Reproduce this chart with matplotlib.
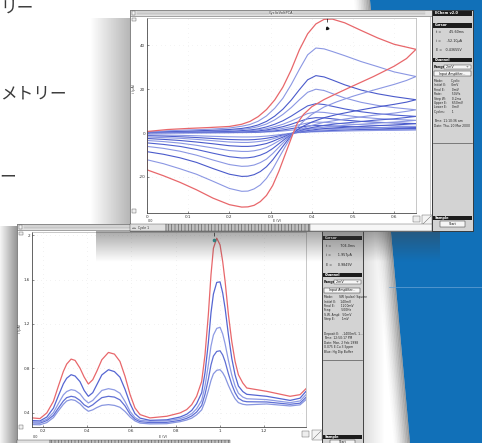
import numpy as np
import matplotlib.pyplot as plt
from matplotlib.patches import Rectangle, Polygon

plt.rcParams['font.family'] = ['DejaVu Sans']
plt.rcParams['hatch.linewidth'] = 0.35

W, H = 482, 443

# ---- cyclic voltammograms (E in V, i in uA) ----
cv_e_fwd = [0.0, 0.05, 0.1, 0.15, 0.2, 0.23, 0.25, 0.27, 0.29, 0.31, 0.33, 0.35, 0.37, 0.39, 0.41,
            0.43, 0.45, 0.48, 0.52, 0.56, 0.6, 0.653]
cv_e_rev = [0.653, 0.63, 0.6, 0.55, 0.5, 0.46, 0.43, 0.40, 0.38, 0.365, 0.355, 0.345, 0.335, 0.32,
            0.305, 0.29, 0.275, 0.26, 0.245, 0.23, 0.2, 0.16, 0.12, 0.08, 0.04, 0.0]
cv_red_fwd = [0.7, 1.6, 2.1, 2.5, 3.0, 4.0, 5.3, 7.5, 10.7, 15.1, 21.0, 28.8, 38.0, 45.3, 49.8, 51.9,
              52.0, 50.3, 46.8, 43.4, 40.5, 38.2]
cv_red_rev = [38.2, 34, 30.5, 25.8, 21.5, 18, 15.3, 12, 8.5, 4.5, 0, -5, -10, -17.5, -24, -28.5,
              -31.3, -33, -33.7, -33.8, -32.7, -29.7, -25.9, -22.5, -19.5, -16.8]
cv_blue_fwd = [
    [0.5, 1.0, 1.4, 1.7, 2.3, 3.1, 3.9, 5.4, 7.8, 11.3, 15.9, 22.1, 29.1, 35.7, 38.8, 38.4, 37.2, 35.3, 32.6, 30.3, 27.9, 25.8],
    [0.4, 0.7, 0.9, 1.2, 1.6, 2.1, 2.7, 3.7, 5.3, 7.7, 10.9, 15.0, 19.8, 24.3, 26.2, 25.6, 24.2, 22.0, 19.6, 17.9, 16.6, 15.2],
    [0.35, 0.5, 0.7, 0.9, 1.2, 1.6, 2.1, 2.9, 4.1, 6.0, 8.5, 11.6, 15.2, 18.6, 20.0, 19.4, 18.0, 16.0, 14.0, 12.6, 11.6, 10.6],
    [0.3, 0.4, 0.5, 0.6, 0.8, 1.1, 1.4, 1.9, 2.8, 4.0, 5.6, 7.7, 10.1, 12.4, 13.4, 13.0, 12.2, 11.0, 9.7, 8.8, 8.2, 7.6],
    [0.25, 0.3, 0.35, 0.45, 0.6, 0.8, 1.0, 1.4, 2.0, 2.9, 4.0, 5.5, 7.2, 8.9, 9.6, 9.4, 8.9, 8.1, 7.2, 6.6, 6.2, 5.8],
    [0.2, 0.25, 0.3, 0.35, 0.45, 0.6, 0.7, 1.0, 1.4, 2.1, 2.9, 4.0, 5.3, 6.5, 7.0, 6.9, 6.5, 5.9, 5.3, 4.9, 4.6, 4.3],
    [0.15, 0.18, 0.2, 0.25, 0.3, 0.4, 0.5, 0.7, 1.0, 1.5, 2.1, 2.9, 3.8, 4.6, 5.0, 4.9, 4.6, 4.2, 3.8, 3.5, 3.2, 3.0],
    [0.1, 0.12, 0.15, 0.18, 0.22, 0.3, 0.35, 0.5, 0.7, 1.0, 1.4, 2.0, 2.6, 3.2, 3.5, 3.4, 3.2, 3.0, 2.7, 2.5, 2.4, 2.3],
    [0.05, 0.07, 0.09, 0.11, 0.14, 0.18, 0.23, 0.32, 0.46, 0.67, 0.94, 1.3, 1.7, 2.1, 2.3, 2.25, 2.15, 1.95, 1.75, 1.65, 1.55, 1.5],
]
cv_blue_rev = [
    [25.8, 24.0, 22.2, 19.6, 16.8, 14.2, 11.9, 8.5, 5.4, 2.6, 0, -3.2, -6.4, -11.4, -16.5, -20.7, -23.7, -25.5, -26.5, -26.6, -25.3, -22.0, -18.8, -16.3, -14.0, -12.2],
    [15.2, 14.1, 13.1, 11.6, 9.9, 8.4, 7.0, 5.0, 3.2, 1.5, 0, -2.4, -4.8, -8.5, -12.3, -15.4, -17.6, -19.0, -19.7, -19.8, -18.8, -16.2, -13.4, -11.3, -9.7, -8.5],
    [10.6, 9.9, 9.1, 8.1, 6.9, 5.8, 4.9, 3.5, 2.2, 1.1, 0, -1.8, -3.6, -6.5, -9.4, -11.9, -13.5, -14.6, -15.1, -15.2, -14.4, -12.3, -10.1, -8.3, -7.0, -6.1],
    [7.6, 7.1, 6.5, 5.8, 4.9, 4.2, 3.5, 2.5, 1.6, 0.8, 0, -1.4, -2.7, -4.9, -7.1, -8.9, -10.1, -10.9, -11.3, -11.4, -10.8, -9.2, -7.5, -6.1, -5.2, -4.5],
    [5.8, 5.4, 5.0, 4.4, 3.8, 3.2, 2.7, 1.9, 1.2, 0.6, 0, -1.0, -2.0, -3.6, -5.2, -6.6, -7.5, -8.1, -8.4, -8.4, -8.0, -6.8, -5.6, -4.6, -3.9, -3.4],
    [4.3, 4.0, 3.7, 3.3, 2.8, 2.4, 2.0, 1.4, 0.9, 0.4, 0, -0.7, -1.5, -2.6, -3.8, -4.8, -5.4, -5.9, -6.1, -6.1, -5.8, -4.9, -4.1, -3.4, -2.9, -2.5],
    [3.0, 2.8, 2.6, 2.3, 2.0, 1.65, 1.4, 1.0, 0.63, 0.3, 0, -0.5, -1.0, -1.8, -2.7, -3.4, -3.8, -4.1, -4.3, -4.3, -4.1, -3.5, -2.9, -2.4, -2.1, -1.8],
    [2.3, 2.15, 2.0, 1.75, 1.5, 1.25, 1.05, 0.76, 0.48, 0.23, 0, -0.4, -0.75, -1.3, -1.9, -2.4, -2.75, -3.0, -3.1, -3.1, -2.95, -2.5, -2.05, -1.7, -1.4, -1.2],
    [1.5, 1.4, 1.3, 1.15, 1.0, 0.83, 0.7, 0.5, 0.32, 0.15, 0, -0.2, -0.45, -0.8, -1.1, -1.4, -1.6, -1.75, -1.8, -1.8, -1.7, -1.5, -1.25, -1.05, -0.9, -0.8],
]
cv_xticks = [0, 0.1, 0.2, 0.3, 0.4, 0.5, 0.6]
cv_xlabels = ['0', '0.1', '0.2', '0.3', '0.4', '0.5', '0.6']
cv_yticks = [40, 20, 0, -20]
cv_ylabels = ['40', '20', '0', '-20']

# ---- pulse voltammograms (E in V, i in uA) ----
dp_e = [0.152, 0.186, 0.217, 0.247, 0.269, 0.292, 0.307, 0.327, 0.345, 0.367, 0.386, 0.405, 0.425,
        0.443, 0.466, 0.496, 0.523, 0.548, 0.571, 0.594, 0.616, 0.639, 0.684, 0.760, 0.820, 0.850,
        0.873, 0.895, 0.918, 0.933, 0.948, 0.960, 0.971, 0.986, 1.001, 1.013, 1.024, 1.039, 1.054,
        1.069, 1.084, 1.104, 1.122, 1.212, 1.318, 1.363, 1.390]
dp_red = [0.352, 0.346, 0.397, 0.502, 0.637, 0.772, 0.838, 0.883, 0.871, 0.802, 0.721, 0.658, 0.697,
          0.772, 0.877, 0.943, 0.928, 0.862, 0.727, 0.562, 0.442, 0.382, 0.352, 0.367, 0.397, 0.427,
          0.472, 0.547, 0.682, 0.923, 1.283, 1.643, 1.883, 1.974, 1.914, 1.763, 1.583, 1.283, 1.043,
          0.863, 0.742, 0.667, 0.622, 0.592, 0.547, 0.562, 0.616]
dp_blue = [
    [0.328, 0.325, 0.36, 0.44, 0.55, 0.66, 0.71, 0.742, 0.73, 0.68, 0.60, 0.547, 0.58, 0.65, 0.74, 0.787,
     0.77, 0.72, 0.61, 0.48, 0.39, 0.35, 0.33, 0.335, 0.36, 0.385, 0.42, 0.48, 0.58, 0.76, 1.03, 1.30,
     1.47, 1.575, 1.58, 1.48, 1.34, 1.10, 0.89, 0.74, 0.64, 0.59, 0.565, 0.547, 0.51, 0.53, 0.592],
    [0.316, 0.314, 0.34, 0.40, 0.48, 0.56, 0.59, 0.607, 0.60, 0.57, 0.52, 0.487, 0.51, 0.55, 0.60, 0.616,
     0.605, 0.575, 0.50, 0.41, 0.355, 0.33, 0.322, 0.325, 0.345, 0.365, 0.39, 0.435, 0.51, 0.64, 0.83,
     1.00, 1.10, 1.16, 1.17, 1.11, 1.02, 0.87, 0.74, 0.64, 0.575, 0.54, 0.525, 0.517, 0.49, 0.505, 0.562],
    [0.307, 0.305, 0.328, 0.375, 0.44, 0.505, 0.535, 0.547, 0.54, 0.51, 0.47, 0.448, 0.47, 0.50, 0.535,
     0.547, 0.54, 0.515, 0.46, 0.385, 0.34, 0.318, 0.31, 0.312, 0.33, 0.348, 0.37, 0.405, 0.465, 0.565,
     0.70, 0.83, 0.91, 0.952, 0.958, 0.92, 0.86, 0.75, 0.655, 0.58, 0.53, 0.505, 0.498, 0.496, 0.475,
     0.485, 0.538],
    [0.292, 0.29, 0.31, 0.355, 0.415, 0.475, 0.505, 0.517, 0.51, 0.48, 0.44, 0.412, 0.425, 0.445, 0.465,
     0.472, 0.465, 0.448, 0.41, 0.36, 0.325, 0.305, 0.298, 0.300, 0.318, 0.333, 0.35, 0.38, 0.425, 0.50,
     0.60, 0.69, 0.75, 0.782, 0.787, 0.76, 0.72, 0.645, 0.58, 0.525, 0.49, 0.475, 0.47, 0.478, 0.46,
     0.47, 0.517],
]
dp_xticks = [0.2, 0.4, 0.6, 0.8, 1.0, 1.2]
dp_xlabels = ['0.2', '0.4', '0.6', '0.8', '1', '1.2']
dp_yticks = [0.4, 0.8, 1.2, 1.6, 2.0]
dp_ylabels = ['0.4', '0.8', '1.2', '1.6', '2']

side_text = ['リー', 'メトリー', 'ー']

RED = '#e8676b'
BLUES = ['#8b97e3', '#4a5acb', '#8b97e3', '#4f60cf', '#8b97e3', '#4a5acb', '#8b97e3', '#4f60cf', '#8b97e3']
DPBLUES = ['#5566d2', '#8e9be4', '#5f6fd4', '#8896e0']


def rect(ax, x0, y0, x1, y1, fc, ec='none', lw=0.4, z=1, **kw):
    ax.add_patch(Rectangle((x0, y0), x1 - x0, y1 - y0, facecolor=fc, edgecolor=ec,
                           linewidth=lw, zorder=z, **kw))


def shade(ax, x0, x1, y0, y1, a0, a1, horizontal=True, z=1):
    t = np.linspace(a0, a1, 64)
    arr = np.zeros((1, 64, 4)) if horizontal else np.zeros((64, 1, 4))
    arr[..., :3] = 0.25
    arr[..., 3] = t if horizontal else t[:, None]
    ax.imshow(arr, extent=(x0, x1, y1, y0), aspect='auto', interpolation='bilinear', zorder=z)


def header(ax, x0, x1, y0, y1, label, z=3):
    rect(ax, x0, y0, x1, y1, '#1c1c1c', z=z)
    ax.text(x0 + 2, (y0 + y1) / 2, label, color='white', fontsize=2.5, va='center',
            fontweight='bold', zorder=z + 1)


def small(ax, x, y, s, z=4, **kw):
    kw.setdefault('fontsize', 2.4)
    kw.setdefault('color', '#222222')
    ax.text(x, y, s, va='center', zorder=z, **kw)


def titlebar(ax, x0, x1, y0, y1, title=None, z=2):
    rect(ax, x0, y0, x1, y1, '#e2e2e2', '#666666', 0.4, z=z)
    for k in range(1, 4):
        yk = y0 + k * (y1 - y0) / 4
        ax.plot([x0 + 7, x1 - 7], [yk, yk], color='#9c9c9c', lw=0.3, zorder=z)
    rect(ax, x0 + 2, y0 + 1, x0 + 5, y1 - 1, '#f4f4f4', '#555555', 0.3, z=z + 1)
    if title:
        cx = (x0 + x1) / 2
        rect(ax, cx - 12, y0 + 0.5, cx + 12, y1 - 0.5, '#e2e2e2', z=z + 1)
        ax.text(cx, (y0 + y1) / 2, title, fontsize=2.5, ha='center', va='center', color='#333333',
                zorder=z + 2)


def panel(ax, x0, x1, y0, y1, z=2):
    rect(ax, x0, y0, x1, y1, '#d3d3d3', '#2a2a2a', 0.6, z=z)


def button(ax, x0, x1, y0, y1, label, z=4):
    rect(ax, x0, y0, x1, y1, '#f6f6f6', '#333333', 0.35, z=z)
    ax.text((x0 + x1) / 2, (y0 + y1) / 2, label, fontsize=2.3, ha='center', va='center',
            color='#111111', zorder=z + 1)


fig = plt.figure(figsize=(W / 100, H / 100), dpi=100)

# ---------- background layer ----------
bg = fig.add_axes([0, 0, 1, 1], zorder=0)
bg.set_xlim(0, W)
bg.set_ylim(H, 0)
bg.axis('off')

bg.add_patch(Polygon([(370, 0), (W, 0), (W, H), (410, H)], closed=True, facecolor='#1170b8',
                     edgecolor='none', zorder=1))
for k in range(10):
    off = k * 1.6
    bg.add_patch(Polygon([(370 - off - 1.6, 0), (370 - off, 0), (410 - off, H), (410 - off - 1.6, H)],
                         closed=True, facecolor='#3a3a3a', edgecolor='none',
                         alpha=0.5 * (1 - k / 10) ** 1.5, zorder=1))
bg.plot([389, W], [287, 287], color='#6aa3d6', lw=0.5, zorder=1)

# left margin text (ends of the method names, cut by the page edge)
jp = ['Noto Sans CJK JP', 'DejaVu Sans']
bg.text(0, 8, side_text[0], fontsize=12, ha='left', va='center', color='#3a3a3a', family=jp)
bg.text(0, 94, side_text[1], fontsize=12, ha='left', va='center', color='#3a3a3a', family=jp)
bg.text(-1, 177, side_text[2], fontsize=12, ha='left', va='center', color='#3a3a3a', family=jp)

# shadows of the two windows
shade(bg, 0, 17, 226, H, 0.05, 0.55, z=1)
shade(bg, 90, 130, 18, 232, 0.0, 0.38, z=1)
shade(bg, 363, 385, 229, H, 0.18, 0.0, z=1)

# lower window frame
rect(bg, 17, 224, 322, H + 2, 'white', '#555555', 0.5, z=2)
titlebar(bg, 17, 322, 224, 229.5)
rect(bg, 19, 231.5, 23, 235, '#f0f0f0', '#555555', 0.3, z=3)
rect(bg, 19, 425, 23, 428.5, '#f0f0f0', '#555555', 0.3, z=3)
bg.text(20, 328, 'i (µA)', fontsize=2.4, rotation=90, ha='center', va='center', color='#333333', zorder=3)
bg.text(163, 437.5, 'E (V)', fontsize=2.4, ha='center', va='center', color='#333333', zorder=3)
bg.text(35, 437.5, '0.0', fontsize=2.4, ha='center', va='center', color='#333333', zorder=3)
rect(bg, 17, 440, 50, H + 2, '#e0e0e0', '#444444', 0.3, z=3)
rect(bg, 50, 440, 230, H + 2, '#bdbdbd', '#444444', 0.3, z=3, hatch='|||||')
rect(bg, 302, 431, 309, 437, '#eeeeee', '#555555', 0.3, z=3)
rect(bg, 312, 430, 322, 440, '#f4f4f4', '#555555', 0.3, z=3)
bg.plot([313, 321], [439, 431], color='#555555', lw=0.3, zorder=3)

# lower side panel
panel(bg, 322, 363, 229, H + 2)
header(bg, 323, 362, 235.5, 240, 'Cursor')
small(bg, 326, 246, 't =        704.0ms')
small(bg, 326, 255, 'i =      1.957µA')
small(bg, 326, 264.5, 'E =     0.9849V')
header(bg, 323, 362, 272.5, 277, 'Channel')
small(bg, 323.5, 282, 'Range:', fontweight='bold')
rect(bg, 334, 280, 361, 284, '#f6f6f6', '#333333', 0.3, z=4)
small(bg, 336, 282, '2mV           ÷', z=5)
button(bg, 324, 360, 287.5, 292.5, 'Input Amplifier...')
for k, s in enumerate(['Mode:      SW (pulse) Square', 'Initial E:    140mV', 'Final E:      1200mV',
                       'Freq:          500Hz', 'S.W. Ampl:  50mV', 'Step E:       1mV']):
    small(bg, 324, 297.3 + k * 4.4, s, fontsize=2.2)
for k, s in enumerate(['Deposit E:   -1400mV, 1...', 'Time: 12:50:17 PM', 'Date: Mon, 2 Feb 1998',
                       '0.075 E.Cu 3.5ppm', 'Blue: Hg Dip Buffer']):
    small(bg, 324, 333.5 + k * 4.5, s, fontsize=2.2)
bg.plot([323, 362], [360, 360], color='#555555', lw=0.5, zorder=3)
header(bg, 323, 362, 435, 438.5, 'Sample')
button(bg, 330, 355, 440, H + 1, 'Start')

# ---------- lower plot ----------
ax2 = fig.add_axes([32 / W, 1 - 427 / H, (306 - 32) / W, (427 - 232) / H], zorder=1)
ax2.grid(True, color='#d2d2d2', linestyle=(0, (0.4, 5)), lw=0.6)
for ys, c in zip(dp_blue[::-1], DPBLUES[::-1]):
    ax2.plot(dp_e, ys, color=c, lw=0.9, solid_joinstyle='round')
ax2.plot(dp_e, dp_red, color=RED, lw=0.9, solid_joinstyle='round')
ax2.plot(0.974, 1.958, 'o', ms=1.6, color='#2c9c9c')
ax2.plot(0.974, 2.01, marker='|', ms=2.5, color='#111111', mew=0.5)
ax2.set_xlim(0.15, 1.39)
ax2.set_ylim(0.27, 2.03)
ax2.set_xticks(dp_xticks, dp_xlabels)
ax2.set_yticks(dp_yticks, dp_ylabels)

# ---------- overlay: upper window ----------
ov = fig.add_axes([0, 0, 1, 1], zorder=2)
ov.patch.set_alpha(0)
ov.set_xlim(0, W)
ov.set_ylim(H, 0)
ov.axis('off')

shade(ov, 96, 440, 231, 262, 0.45, 0.0, horizontal=False, z=1)
rect(ov, 130, 10, 432, 231, 'white', '#555555', 0.5, z=2)
titlebar(ov, 130, 432, 10, 15.5, 'CyclicVoltPCA')
rect(ov, 132, 17.5, 136, 21, '#f0f0f0', '#555555', 0.3, z=3)
rect(ov, 132, 209, 136, 212.5, '#f0f0f0', '#555555', 0.3, z=3)
ov.text(134, 88, 'i (µA)', fontsize=2.4, rotation=90, ha='center', va='center', color='#333333', zorder=3)
ov.text(277, 221, 'E (V)', fontsize=2.4, ha='center', va='center', color='#333333', zorder=3)
ov.text(150, 221, '0.0', fontsize=2.4, ha='center', va='center', color='#333333', zorder=3)
ov.plot([430, 430], [16, 224], color='#9a9a9a', lw=0.4, zorder=3)
rect(ov, 413, 216, 420, 222, '#eeeeee', '#555555', 0.3, z=3)
rect(ov, 422, 215, 432, 225, '#f4f4f4', '#555555', 0.3, z=3)
ov.plot([423, 431], [224, 216], color='#555555', lw=0.3, zorder=3)
rect(ov, 130, 224, 166, 231, '#e0e0e0', '#444444', 0.3, z=3)
small(ov, 132, 227.5, '◂ ▸  Cycle 1', fontsize=2.2)
rect(ov, 166, 224, 310, 231, '#bdbdbd', '#444444', 0.3, z=3, hatch='|||||')
rect(ov, 310, 224, 432, 231, '#f6f6f6', '#555555', 0.3, z=3)

# upper side panel
panel(ov, 432, 473, 10, 231)
header(ov, 433, 472, 10.5, 15.5, 'EChem v2.0')
header(ov, 433, 472, 23, 27.5, 'Cursor')
small(ov, 436, 31.7, 't =       45.60ms')
small(ov, 436, 40.7, 'i =     -52.10µA')
small(ov, 436, 50, 'E =   0.43655V')
header(ov, 433, 472, 57.5, 62, 'Channel')
small(ov, 433.5, 66.7, 'Range:', fontweight='bold')
rect(ov, 444, 64.7, 471, 68.7, '#f6f6f6', '#333333', 0.3, z=4)
small(ov, 446, 66.7, '2mV           ÷', z=5)
button(ov, 434, 471, 71, 76, 'Input Amplifier...')
for k, s in enumerate(['Mode:        Cyclic', 'Initial E:     0mV', 'Final E:       0mV',
                       'Rate:          50V/s', 'Step W:      0.2ms', 'Upper E:     650mV',
                       'Lower E:     0mV', 'Cycles:       1']):
    small(ov, 434, 81 + k * 4.4, s, fontsize=2.2)
small(ov, 434, 121, 'Time: 11:10:36 am', fontsize=2.2)
small(ov, 434, 125.5, 'Date: Thu, 20 Mar 2000', fontsize=2.2)
ov.plot([433, 472], [143, 143], color='#555555', lw=0.5, zorder=3)
header(ov, 433, 472, 215.5, 219.5, 'Sample')
button(ov, 440, 465, 221, 226.5, 'Start')

# ---------- upper plot ----------
ax1 = fig.add_axes([147 / W, 1 - 213 / H, (416 - 147) / W, (213 - 18) / H], zorder=3)
ax1.grid(True, color='#d8d8d8', linestyle=(0, (0.4, 5)), lw=0.6)
e_loop = cv_e_fwd + cv_e_rev + [0.0]
for fwd, rev, c in zip(cv_blue_fwd[::-1], cv_blue_rev[::-1], BLUES[::-1]):
    ax1.plot(e_loop, fwd + rev + [fwd[0]], color=c, lw=0.8, solid_joinstyle='round')
ax1.plot(e_loop, cv_red_fwd + cv_red_rev + [cv_red_fwd[0]], color=RED, lw=0.9,
         solid_joinstyle='round')
ax1.plot(0.436, 51.6, marker='|', ms=2.5, color='#111111', mew=0.5)
ax1.plot(0.437, 47.8, marker=(3, 0, 20), ms=2.2, color='#111111')
ax1.set_xlim(0, 0.653)
ax1.set_ylim(-36.5, 52.5)
ax1.set_xticks(cv_xticks, cv_xlabels)
ax1.set_yticks(cv_yticks, cv_ylabels)

for ax in (ax1, ax2):
    ax.set_facecolor('white')
    for side in ('left', 'bottom'):
        ax.spines[side].set_color('#4a4a4a')
        ax.spines[side].set_linewidth(0.6)
    for side in ('top', 'right'):
        ax.spines[side].set_color('#b0b0b0')
        ax.spines[side].set_linewidth(0.5)
    ax.tick_params(labelsize=3.0, length=1.5, width=0.4, pad=1.2, colors='#333333',
                   direction='in')

fig.savefig('out.png', dpi=100)
